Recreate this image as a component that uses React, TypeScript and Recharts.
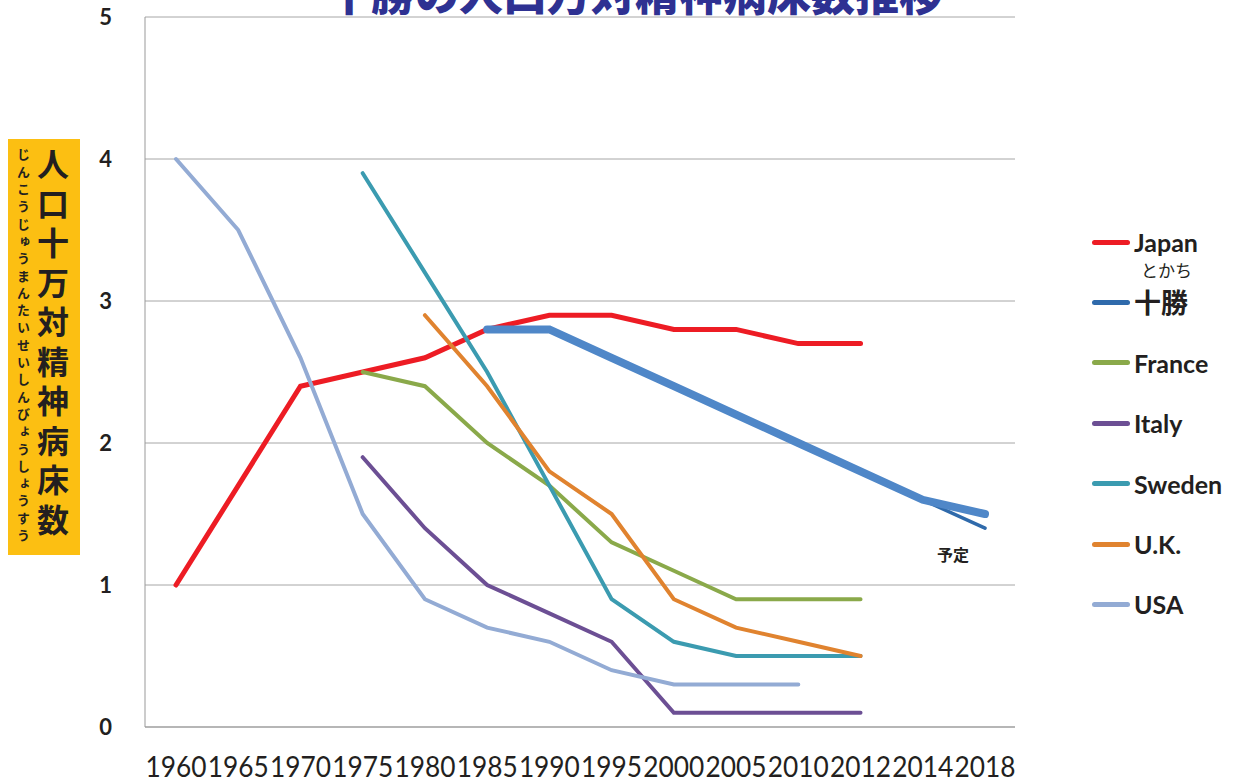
import React from "react"
import { LineChart, Line, XAxis, YAxis, CartesianGrid, Legend } from "recharts"

const years = ["1960", "1965", "1970", "1975", "1980", "1985", "1990", "1995", "2000", "2005", "2010", "2012", "2014", "2018"]

const japan = [1.0, 1.7, 2.4, 2.5, 2.6, 2.8, 2.9, 2.9, 2.8, 2.8, 2.7, 2.7, null, null]
const tokachi = [null, null, null, null, null, 2.8, 2.8, 2.6, 2.4, 2.2, 2.0, 1.8, 1.6, 1.4]
const tokachiPlan = [null, null, null, null, null, 2.8, 2.8, 2.6, 2.4, 2.2, 2.0, 1.8, 1.6, 1.5]
const france = [null, null, null, 2.5, 2.4, 2.0, 1.7, 1.3, 1.1, 0.9, 0.9, 0.9, null, null]
const italy = [null, null, null, 1.9, 1.4, 1.0, 0.8, 0.6, 0.1, 0.1, 0.1, 0.1, null, null]
const sweden = [null, null, null, 3.9, 3.2, 2.5, 1.7, 0.9, 0.6, 0.5, 0.5, 0.5, null, null]
const uk = [null, null, null, null, 2.9, 2.4, 1.8, 1.5, 0.9, 0.7, 0.6, 0.5, null, null]
const usa = [4.0, 3.5, 2.6, 1.5, 0.9, 0.7, 0.6, 0.4, 0.3, 0.3, 0.3, null, null, null]

const yTicks = [0, 1, 2, 3, 4, 5]

const data = years.map((year, i) => ({
  year,
  Japan: japan[i],
  tokachi: tokachi[i],
  tokachiPlan: tokachiPlan[i],
  France: france[i],
  Italy: italy[i],
  Sweden: sweden[i],
  UK: uk[i],
  USA: usa[i],
}))

const legendItems = [
  { name: "Japan", color: "#ed1c24" },
  { name: "十勝", color: "#2f6aab", ruby: "とかち" },
  { name: "France", color: "#8aa94a" },
  { name: "Italy", color: "#6c4f94" },
  { name: "Sweden", color: "#3b9bb0" },
  { name: "U.K.", color: "#e0832f" },
  { name: "USA", color: "#93abd4" },
]

const latin = "Lato, 'Liberation Sans', sans-serif"
const cjk = "'Noto Sans CJK JP', sans-serif"

// year labels are packed edge to edge in the original, so squeeze them into the band
function YearTick(props: any) {
  const { x, y, payload } = props
  return (
    <text
      x={x}
      y={y + 28}
      dy="0.71em"
      textAnchor="middle"
      fill="#231f20"
      fontSize={28}
      fontFamily={latin}
      textLength={61}
      lengthAdjust="spacingAndGlyphs"
    >
      {payload.value}
    </text>
  )
}

function renderLegend() {
  return (
    <div style={{ position: "relative", width: 150, height: 400 }}>
      {legendItems.map((item, i) => (
        <div
          key={item.name}
          style={{ position: "absolute", left: 0, top: i * 60.4, height: 28, display: "flex", alignItems: "center" }}
        >
          <div style={{ width: 38, height: 5, borderRadius: 3, background: item.color }} />
          <span
            style={{
              marginLeft: 4,
              fontFamily: item.ruby ? cjk : latin,
              fontWeight: 700,
              fontSize: item.ruby ? 27 : 25,
              color: "#231f20",
              position: "relative",
              lineHeight: "28px",
              whiteSpace: "nowrap",
            }}
          >
            {item.ruby && (
              <span
                style={{
                  position: "absolute",
                  left: 7,
                  top: -28,
                  fontSize: 17,
                  lineHeight: "20px",
                  fontWeight: 400,
                  whiteSpace: "nowrap",
                }}
              >
                {item.ruby}
              </span>
            )}
            {item.name}
          </span>
        </div>
      ))}
    </div>
  )
}

export default function App() {
  return (
    <div style={{ position: "absolute", left: 0, top: 0, width: 1244, height: 783, overflow: "hidden", background: "#fff" }}>
      <div
        style={{
          position: "absolute",
          left: 0,
          width: 1270,
          top: -30,
          textAlign: "center",
          fontFamily: cjk,
          fontWeight: 900,
          fontSize: 44,
          lineHeight: "44px",
          color: "#2e3192",
        }}
      >
        十勝の人口万対精神病床数推移
      </div>

      <div style={{ position: "absolute", left: 8, top: 139, width: 72, height: 416, background: "#fcbf12" }}>
        <div
          style={{
            position: "absolute",
            left: 7,
            top: 9,
            writingMode: "vertical-rl",
            fontFamily: cjk,
            fontWeight: 700,
            fontSize: 13,
            letterSpacing: 4.3,
            color: "#231f20",
            lineHeight: "16px",
          }}
        >
          じんこうじゅうまんたいせいしんびょうしょうすう
        </div>
        <div
          style={{
            position: "absolute",
            left: 27,
            top: 9,
            writingMode: "vertical-rl",
            fontFamily: cjk,
            fontWeight: 700,
            fontSize: 32,
            letterSpacing: 7.5,
            color: "#231f20",
            lineHeight: "36px",
          }}
        >
          人口十万対精神病床数
        </div>
      </div>

      <LineChart width={1244} height={783} data={data} margin={{ top: 17, right: 229, bottom: 0, left: 85 }}>
        <CartesianGrid vertical={false} stroke="#a6a6a6" />
        <XAxis
          dataKey="year"
          interval={0}
          padding={{ left: 31, right: 30 }}
          height={56}
          tickSize={0}
          axisLine={{ stroke: "#999" }}
          tick={<YearTick />}
        />
        <YAxis
          domain={[0, 5]}
          ticks={yTicks}
          width={60}
          tickSize={0}
          tickMargin={33}
          axisLine={{ stroke: "#999" }}
          tick={{ fill: "#231f20", fontSize: 22, fontWeight: 700, fontFamily: latin }}
        />
        <Legend
          layout="vertical"
          align="center"
          verticalAlign="middle"
          content={renderLegend}
          wrapperStyle={{ position: "absolute", left: 1092, top: 228, width: 150, height: 400 }}
        />
        <Line dataKey="Japan" stroke="#ed1c24" strokeWidth={5} strokeLinecap="round" dot={false} isAnimationActive={false} />
        <Line dataKey="tokachi" stroke="#2f6aab" strokeWidth={3.5} strokeLinecap="round" dot={false} isAnimationActive={false} />
        <Line dataKey="France" stroke="#8aa94a" strokeWidth={4} strokeLinecap="round" dot={false} isAnimationActive={false} />
        <Line dataKey="Italy" stroke="#6c4f94" strokeWidth={4} strokeLinecap="round" dot={false} isAnimationActive={false} />
        <Line dataKey="Sweden" stroke="#3b9bb0" strokeWidth={4} strokeLinecap="round" dot={false} isAnimationActive={false} />
        <Line dataKey="UK" stroke="#e0832f" strokeWidth={4} strokeLinecap="round" dot={false} isAnimationActive={false} />
        <Line dataKey="USA" stroke="#93abd4" strokeWidth={4} strokeLinecap="round" dot={false} isAnimationActive={false} />
        <Line dataKey="tokachiPlan" stroke="#4f87c8" strokeWidth={8} strokeLinecap="round" dot={false} isAnimationActive={false} />
      </LineChart>

      <div
        style={{
          position: "absolute",
          left: 937,
          top: 542,
          fontFamily: cjk,
          fontWeight: 700,
          fontSize: 16,
          color: "#231f20",
        }}
      >
        予定
      </div>
    </div>
  )
}
